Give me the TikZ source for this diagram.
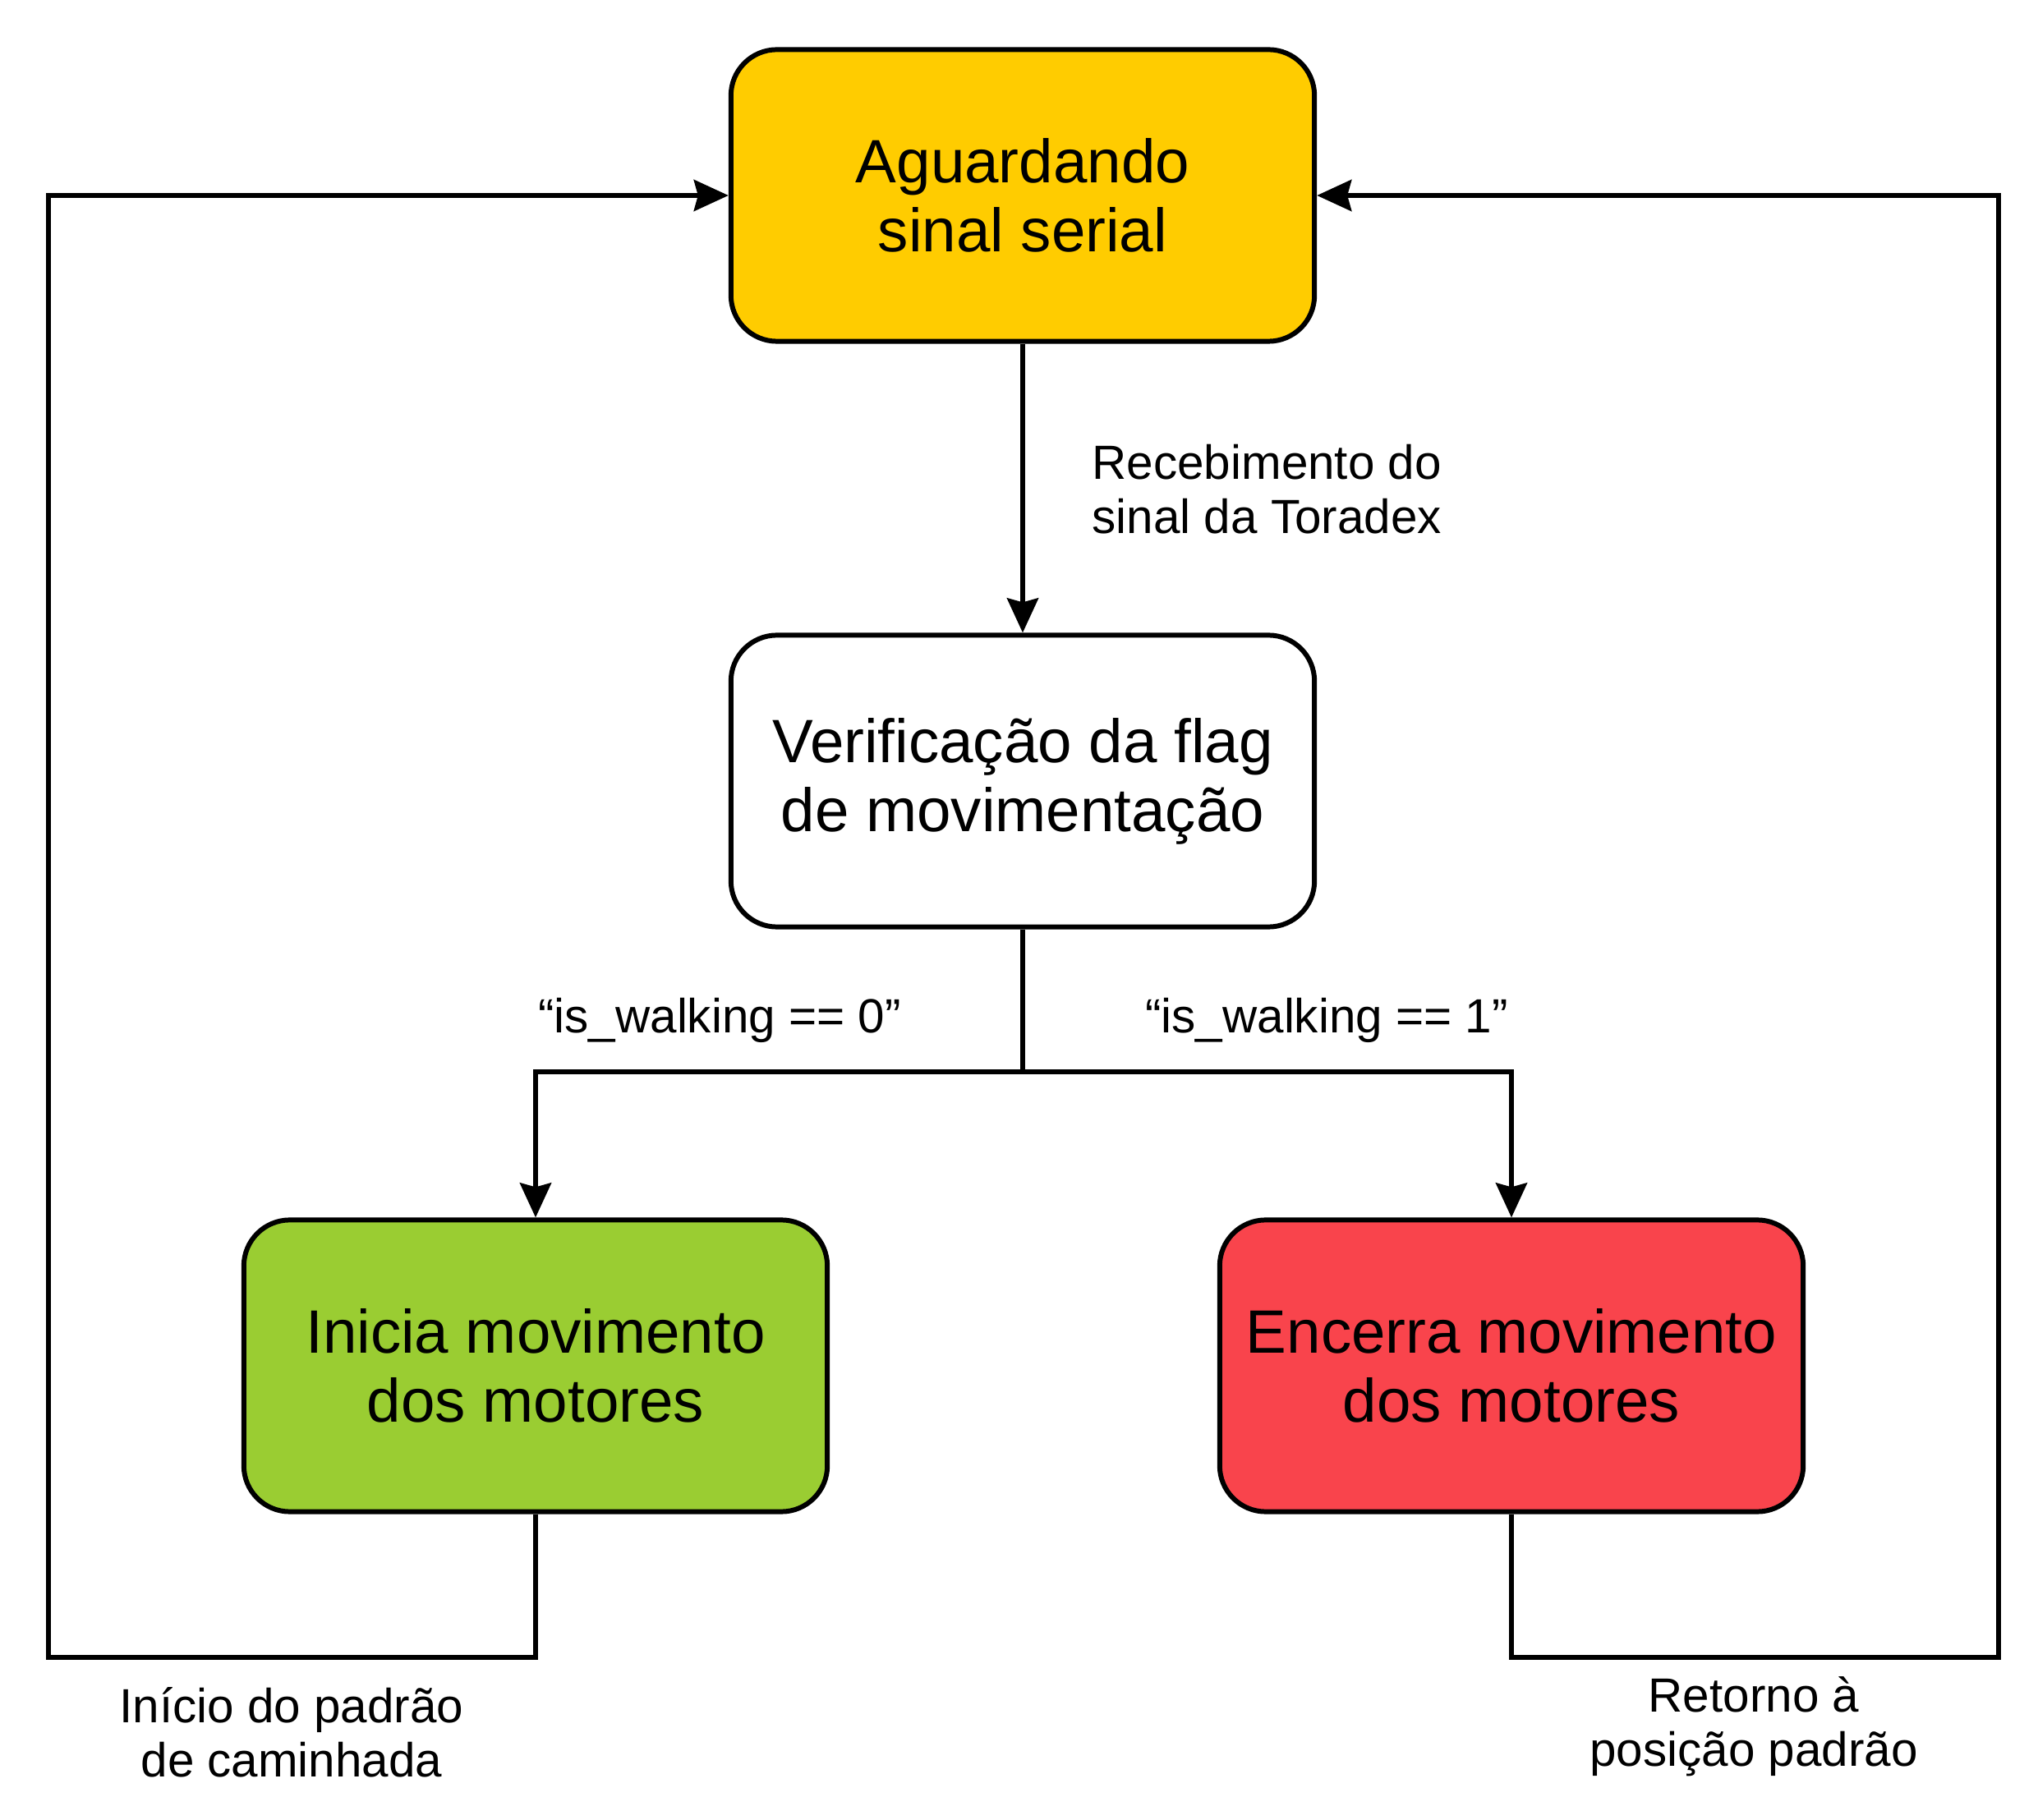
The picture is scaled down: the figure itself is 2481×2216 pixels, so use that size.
\documentclass[tikz,border=0pt]{standalone}
\usepackage{fontspec}
\setmainfont{Liberation Sans}
\usetikzlibrary{arrows.meta}
\definecolor{cyellow}{HTML}{FFCC00}
\definecolor{cgreen}{HTML}{9ACD32}
\definecolor{cred}{HTML}{F9444C}
\tikzset{
  statebox/.style={draw=black, line width=1.7pt, rectangle, rounded corners=0.56cm,
    minimum width=7.1cm, minimum height=3.55cm, inner sep=0pt, align=center,
    font=\fontsize{21.2}{23.9}\selectfont},
  edgelabel/.style={inner sep=0pt, align=center, font=\fontsize{16.6}{18.7}\selectfont},
  conn/.style={line width=1.6pt, line join=miter},
  arr/.style={conn, -{Stealth[length=0.42cm, width=0.38cm, inset=0.05cm]}}
}
\begin{document}
\begin{tikzpicture}[x=0.01cm, y=-0.01cm]
\useasboundingbox (0,0) rectangle (2481,2216);
\node[statebox, fill=cyellow] (top) at (1245,238) {Aguardando\\sinal serial};
\node[statebox, fill=white] (mid) at (1245,951) {Verificação da flag\\de movimentação};
\node[statebox, fill=cgreen] (bl) at (652,1663) {Inicia movimento\\dos motores};
\node[statebox, fill=cred] (br) at (1840,1663) {Encerra movimento\\dos motores};

\coordinate (split) at (1245,1305);
\coordinate (lb) at (59,2018);
\coordinate (rb) at (2433,2018);

\draw[arr] (top.south) -- (mid.north);
\draw[conn] (mid.south) -- (split);
\draw[arr] (split) -| (bl.north);
\draw[arr] (split) -| (br.north);
\draw[arr] (bl.south) |- (lb) |- (top.west);
\draw[arr] (br.south) |- (rb) |- (top.east);

\node[edgelabel, align=left, anchor=west] (l1) at (1329,596) {Recebimento do\\sinal da Toradex};
\node[edgelabel] (l2) at (876,1242) {“is\_walking == 0”};
\node[edgelabel] (l3) at (1615,1242) {“is\_walking == 1”};
\node[edgelabel] (l4) at (355,2109) {Início do padrão\\de caminhada};
\node[edgelabel] (l5) at (2135,2102) {Retorno à\\posição padrão};
\end{tikzpicture}
\end{document}
